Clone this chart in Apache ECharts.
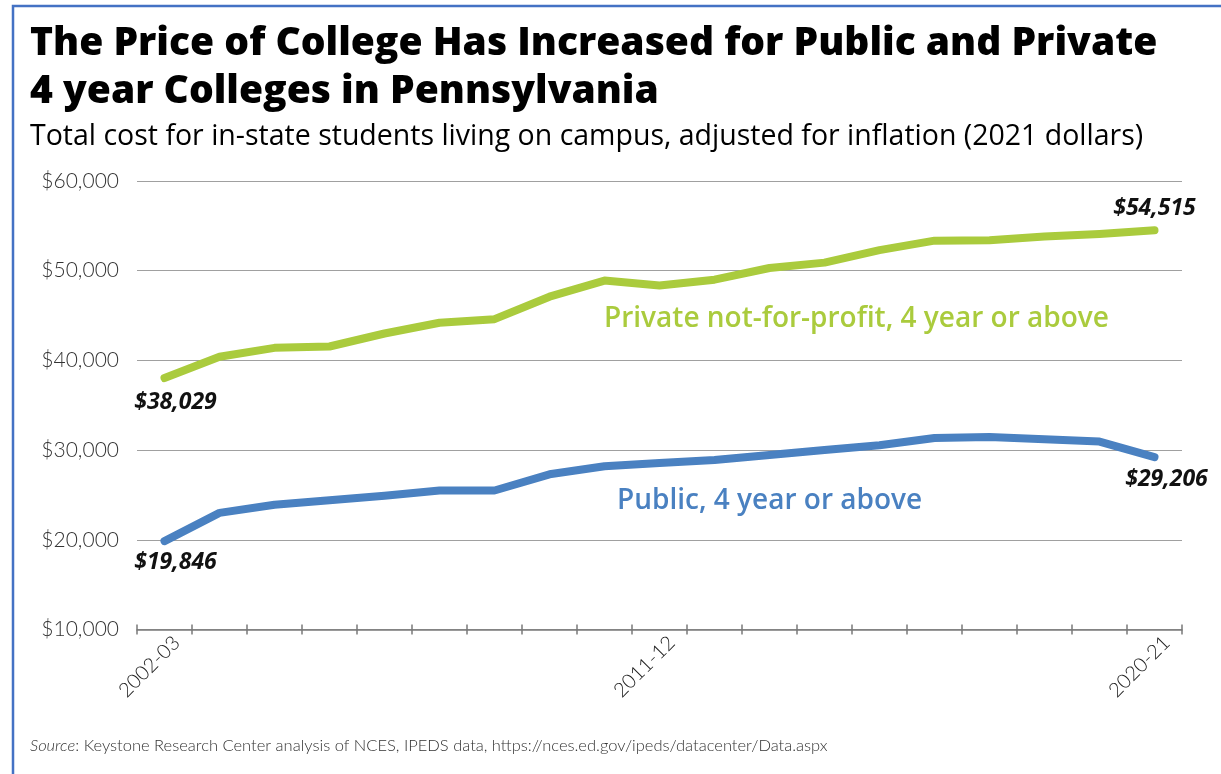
<!DOCTYPE html>
<html>
<head>
<meta charset="utf-8">
<script src="https://cdn.jsdelivr.net/npm/echarts@6/dist/echarts.min.js"></script>
<style>
  html, body { margin: 0; padding: 0; background: #ffffff; }
  #chart { width: 1221px; height: 774px; }
</style>
</head>
<body>
<div id="chart"></div>
<script>
// School years on the category axis
const years = [
  '2002-03', '2003-04', '2004-05', '2005-06', '2006-07', '2007-08', '2008-09',
  '2009-10', '2010-11', '2011-12', '2012-13', '2013-14', '2014-15', '2015-16',
  '2016-17', '2017-18', '2018-19', '2019-20', '2020-21'
];

// Total cost, in-state students living on campus (2021 dollars)
const privateCost = [
  38029, 40400, 41400, 41550, 43000, 44200, 44600, 47100, 48900, 48350,
  49000, 50300, 50900, 52300, 53350, 53400, 53800, 54100, 54515
];
const publicCost = [
  19846, 23000, 23900, 24400, 24900, 25500, 25500, 27300, 28200, 28550,
  28900, 29450, 30000, 30550, 31350, 31450, 31200, 30950, 29206
];

const yTicks = [10000, 20000, 30000, 40000, 50000, 60000];

const seriesNames = ['Private not-for-profit, 4 year or above', 'Public, 4 year or above'];

const titleLines = [
  'The Price of College Has Increased for Public and Private',
  '4 year Colleges in Pennsylvania'
];
const subtitle = 'Total cost for in-state students living on campus, adjusted for inflation (2021 dollars)';
const sourceNote = 'Keystone Research Center analysis of NCES, IPEDS data, https://nces.ed.gov/ipeds/datacenter/Data.aspx';

const GREEN = '#aacb3d';
const BLUE = '#4a81c1';
const GRID_GRAY = '#a0a0a0';
const AXIS_GRAY = '#7a7a7a';
const SANS = '"Open Sans", Lato, sans-serif';
const LIGHT = 'Lato, "Open Sans", sans-serif';

const money = v => '$' + Number(v).toLocaleString('en-US');

// Only the first and last points carry a value label
function endLabels(values, firstLabel, lastLabel) {
  return values.map((v, i) => {
    if (i === 0) return { value: v, label: Object.assign({ show: true }, firstLabel) };
    if (i === values.length - 1) return { value: v, label: Object.assign({ show: true }, lastLabel) };
    return v;
  });
}

const valueLabelStyle = {
  show: false,
  formatter: p => money(p.value),
  fontFamily: SANS,
  fontWeight: 'bold',
  fontStyle: 'italic',
  fontSize: 23,
  color: '#111'
};

const chart = echarts.init(document.getElementById('chart'), null, { renderer: 'canvas' });

chart.setOption({
  backgroundColor: '#ffffff',
  animation: false,
  grid: { left: 137, right: 39, top: 181, bottom: 144.5, containLabel: false },
  xAxis: [
    {
      type: 'category',
      data: years,
      boundaryGap: true,
      axisLine: { show: true, lineStyle: { color: AXIS_GRAY, width: 1.5 } },
      axisTick: { show: true, interval: 0, length: 5, lineStyle: { color: AXIS_GRAY, width: 1.5 } },
      axisLabel: {
        interval: 8,
        rotate: 45,
        margin: 22,
        padding: [0, -17, 0, 0],
        fontFamily: LIGHT,
        fontWeight: 300,
        fontSize: 20,
        color: '#222'
      },
      splitLine: { show: false }
    },
    {
      // upper half of the crossing tick marks
      type: 'category',
      data: years,
      position: 'bottom',
      boundaryGap: true,
      axisLine: { show: false },
      axisTick: { show: true, inside: true, interval: 0, length: 5, lineStyle: { color: AXIS_GRAY, width: 1.5 } },
      axisLabel: { show: false },
      splitLine: { show: false }
    }
  ],
  yAxis: {
    type: 'value',
    min: yTicks[0],
    max: yTicks[yTicks.length - 1],
    interval: 10000,
    axisLine: { show: false },
    axisTick: { show: false },
    axisLabel: {
      margin: 18,
      formatter: v => money(v),
      fontFamily: LIGHT,
      fontWeight: 300,
      fontSize: 21,
      color: '#333'
    },
    splitLine: { show: true, lineStyle: { color: GRID_GRAY, width: 1.2 } }
  },
  series: [
    {
      name: seriesNames[0],
      type: 'line',
      data: endLabels(privateCost,
        { position: 'bottom', offset: [11, 7] },
        { position: 'top', offset: [0, -5] }),
      symbol: 'circle',
      symbolSize: 1,
      showSymbol: true,
      itemStyle: { color: GREEN },
      lineStyle: { color: GREEN, width: 8, cap: 'round', join: 'round' },
      label: valueLabelStyle,
      z: 3
    },
    {
      name: seriesNames[1],
      type: 'line',
      data: endLabels(publicCost,
        { position: 'bottom', offset: [11, 4] },
        { position: 'bottom', offset: [12, 5] }),
      symbol: 'circle',
      symbolSize: 1,
      showSymbol: true,
      itemStyle: { color: BLUE },
      lineStyle: { color: BLUE, width: 8, cap: 'round', join: 'round' },
      label: valueLabelStyle,
      z: 3
    }
  ],
  graphic: [
    {
      type: 'polyline',
      shape: { points: [[13, 774], [13, 6], [1221, 6]] },
      style: { stroke: '#4472c4', lineWidth: 2.5, fill: null },
      silent: true
    },
    {
      type: 'text', x: 30, y: 44,
      style: { text: titleLines[0], fill: '#000', font: '800 39px ' + SANS, verticalAlign: 'middle' }
    },
    {
      type: 'text', x: 30, y: 92,
      style: { text: titleLines[1], fill: '#000', font: '800 39px ' + SANS, verticalAlign: 'middle' }
    },
    {
      type: 'text', x: 30, y: 137,
      style: { text: subtitle, fill: '#000', font: '400 28.5px ' + SANS, verticalAlign: 'middle' }
    },
    {
      type: 'text', x: 30, y: 746,
      style: {
        text: '{i|Source}: ' + sourceNote,
        fill: '#333',
        font: '300 16.5px ' + LIGHT,
        verticalAlign: 'middle',
        rich: { i: { fontStyle: 'italic', fontFamily: LIGHT, fontWeight: 300, fontSize: 16.5, fill: '#333' } }
      }
    },
    {
      type: 'text', x: 604, y: 319,
      style: { text: seriesNames[0], fill: GREEN, font: '600 28px ' + SANS, verticalAlign: 'middle' }
    },
    {
      type: 'text', x: 617, y: 501,
      style: { text: seriesNames[1], fill: BLUE, font: '600 28px ' + SANS, verticalAlign: 'middle' }
    }
  ]
});
</script>
</body>
</html>
